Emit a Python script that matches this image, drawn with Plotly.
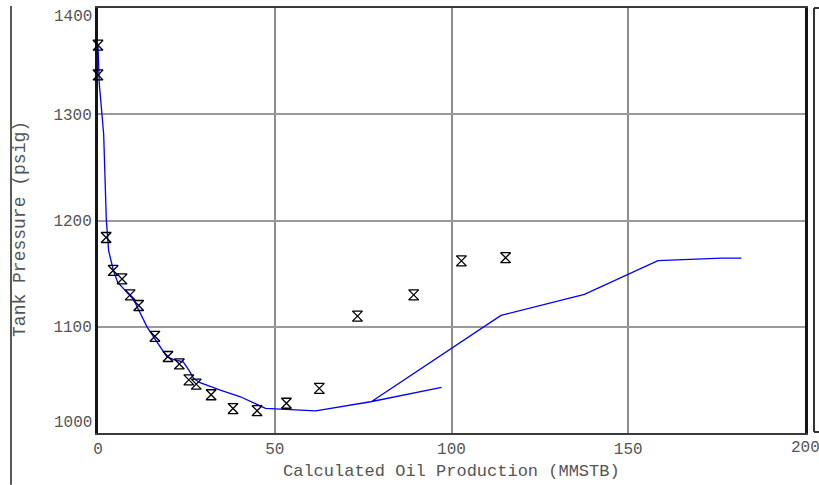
import plotly.graph_objects as go

# Observed tank pressure history (points)
hist_prod = [0.0, 0.0, 2.3, 4.3, 6.8, 9.1, 11.5, 16.1, 19.8, 23.0, 25.7, 27.8,
             32.0, 38.2, 45.0, 53.3, 62.6, 73.4, 89.3, 102.8, 115.3]
hist_pres = [1365, 1337, 1184, 1153, 1145, 1130, 1120, 1091, 1072, 1065, 1050, 1046,
             1036, 1023, 1021, 1028, 1042, 1110, 1130, 1162, 1165]

# Calculated oil production vs tank pressure (line)
calc_prod = [0.0, 0.37, 1.6, 2.35, 3.0, 4.4, 5.55, 10.1, 13.9, 16.7, 19.5, 21.4,
             24.1, 25.7, 27.1, 28.7, 34.6, 40.3, 47.4, 61.6, 77.1, 97.2, 77.4,
             114.0, 137.6, 158.4, 165.0, 176.4, 182.0]
calc_pres = [1365.2, 1328.3, 1281.4, 1200.8, 1171.7, 1152.4, 1141.9, 1125.4, 1099.7,
             1085.6, 1071.6, 1069.1, 1066.9, 1059.1, 1051.3, 1047.6, 1040.3, 1034.1,
             1023.2, 1020.9, 1029.4, 1042.9, 1029.6, 1110.7, 1130.4, 1162.3, 1163.2,
             1164.5, 1164.5]

x_ticks = [0, 50, 100, 150]
x_end_label = 200
y_ticks = [1100, 1200, 1300]
y_end_labels = [1000, 1400]

W, H = 819, 485
ML, MR, MT, MB = 98, 14, 6, 52
PW, PH = W - ML - MR, H - MT - MB

FONT = "Courier New, Liberation Mono, monospace"
TXT = "#555555"


def px(x):
    return (x - ML) / PW


def py(y):
    return (H - MB - y) / PH


fig = go.Figure()

fig.add_trace(go.Scatter(
    x=calc_prod, y=calc_pres, mode="lines",
    line=dict(color="#0000ff", width=1.3),
    showlegend=False, hoverinfo="skip", cliponaxis=False,
))

fig.add_trace(go.Scatter(
    x=hist_prod, y=hist_pres, mode="markers",
    marker=dict(symbol="hourglass-open", size=10, color="black",
                line=dict(color="black", width=1.3)),
    showlegend=False, cliponaxis=False,
))

shapes = [
    # outer left rule
    dict(type="line", xref="paper", yref="paper", x0=px(11), x1=px(11),
         y0=py(4), y1=py(485), line=dict(color="#222222", width=1.5)),
    # neighbouring panel edge on the right
    dict(type="line", xref="paper", yref="paper", x0=px(814), x1=px(814),
         y0=py(6), y1=py(432), line=dict(color="#333333", width=2)),
    dict(type="line", xref="paper", yref="paper", x0=px(814), x1=px(822),
         y0=py(6), y1=py(6), line=dict(color="#333333", width=2)),
    dict(type="line", xref="paper", yref="paper", x0=px(814), x1=px(822),
         y0=py(432), y1=py(432), line=dict(color="#333333", width=2)),
]

annotations = [
    dict(text="Calculated Oil Production (MMSTB)", xref="paper", yref="paper",
         x=px(451), y=py(472), xanchor="center", yanchor="middle", showarrow=False,
         font=dict(family=FONT, size=17, color=TXT)),
    dict(text="Tank Pressure (psig)", xref="paper", yref="paper",
         x=px(20), y=py(228), xanchor="center", yanchor="middle", showarrow=False,
         textangle=-90, font=dict(family=FONT, size=18, color=TXT)),
    # last production label, partly running past the page edge
    dict(text=str(x_end_label), xref="x", yref="paper", x=x_end_label, y=py(448),
         xanchor="center", yanchor="middle", showarrow=False,
         font=dict(family=FONT, size=16, color=TXT)),
]
# end labels on the pressure axis sit just inside the frame
for v, shift in zip(y_end_labels, [10, -9]):
    annotations.append(dict(
        text=str(v), xref="paper", yref="y", x=0, y=v, xanchor="right",
        yanchor="middle", xshift=-4, yshift=shift, showarrow=False,
        font=dict(family=FONT, size=16, color=TXT)))

fig.update_layout(
    width=W, height=H,
    margin=dict(l=ML, r=MR, t=MT, b=MB, pad=0),
    paper_bgcolor="white", plot_bgcolor="white",
    shapes=shapes, annotations=annotations,
    xaxis=dict(range=[0, 200], tickvals=x_ticks, ticks="", showgrid=True,
               gridcolor="#8c8c8c", gridwidth=2, zeroline=False,
               showline=True, linecolor="#3a3a3a", linewidth=2, mirror=True,
               layer="below traces",
               tickfont=dict(family=FONT, size=16, color=TXT)),
    yaxis=dict(range=[1000, 1400], tickvals=y_ticks, ticks="", showgrid=True,
               gridcolor="#9a9a9a", gridwidth=2, zeroline=False,
               showline=True, linecolor="#151515", linewidth=3, mirror=True,
               layer="below traces",
               tickfont=dict(family=FONT, size=16, color=TXT)),
)

fig.write_html("out.html")
